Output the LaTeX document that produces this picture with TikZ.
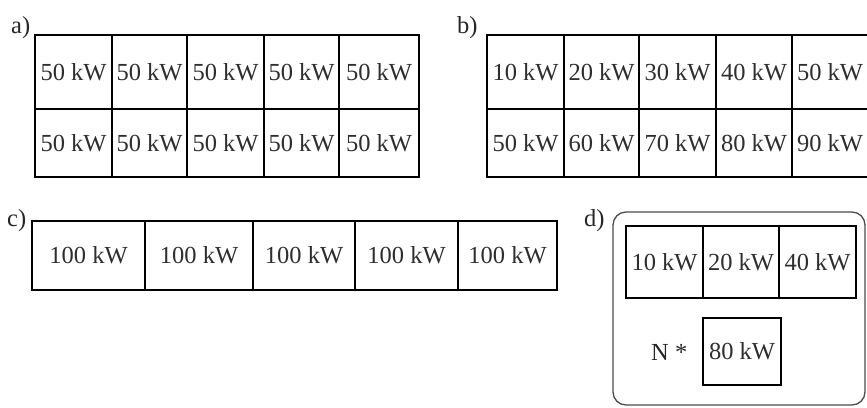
\documentclass[tikz,border=0pt]{standalone}
\usepackage{fontspec}
\setmainfont{Liberation Serif}
\begin{document}
\begin{tikzpicture}[x=1pt,y=-1pt,
  cell/.style={draw=black,line width=2.9pt,inner sep=0pt,rectangle,
    text=black!82,font=\fontsize{24.5}{28}\selectfont},
  lbl/.style={anchor=base west,inner sep=0pt,text=black!85,font=\fontsize{24.5}{28}\selectfont},
  panelbox/.style={draw=black!70,line width=1.3pt,rounded corners=13pt}]
\useasboundingbox (0,0) rectangle (867,407);
% ---- panel a
\node[lbl] (la) at (11,33) {a)};
\foreach \l/\r [count=\i] in {35/112,112/187,187/264,264/339,339/419}{
  \node[cell,minimum width=\r-\l,minimum height=74] (a1\i) at ({(\l+\r)/2},72) {50 kW};
  \node[cell,minimum width=\r-\l,minimum height=68] (a2\i) at ({(\l+\r)/2},143) {50 kW};
}
% ---- panel b
\node[lbl] (lb) at (457,33) {b)};
\foreach \l/\r/\t/\u [count=\i] in {487/564/10/50,564/639/20/60,639/716/30/70,716/792/40/80,792/868/50/90}{
  \node[cell,minimum width=\r-\l,minimum height=74] (b1\i) at ({(\l+\r)/2},72) {\t\ kW};
  \node[cell,minimum width=\r-\l,minimum height=68] (b2\i) at ({(\l+\r)/2},143) {\u\ kW};
}
% ---- panel c
\node[lbl] (lc) at (7,226) {c)};
\foreach \l/\r [count=\i] in {32/145,145/253,253/355,355/458,458/557}{
  \node[cell,minimum width=\r-\l,minimum height=69] (c\i) at ({(\l+\r)/2},255.5) {100 kW};
}
% ---- panel d
\node[lbl] (ld) at (584,226) {d)};
\draw[panelbox] (613,212) rectangle (865,405);
\foreach \l/\r/\t [count=\i] in {626/703/10,703/779/20,779/856/40}{
  \node[cell,minimum width=\r-\l,minimum height=72] (d\i) at ({(\l+\r)/2},262) {\t\ kW};
}
\node[cell,minimum width=78,minimum height=67] (d4) at (742,351.5) {80 kW};
\node[lbl] (n) at (651,360) {N *};
\end{tikzpicture}
\end{document}
